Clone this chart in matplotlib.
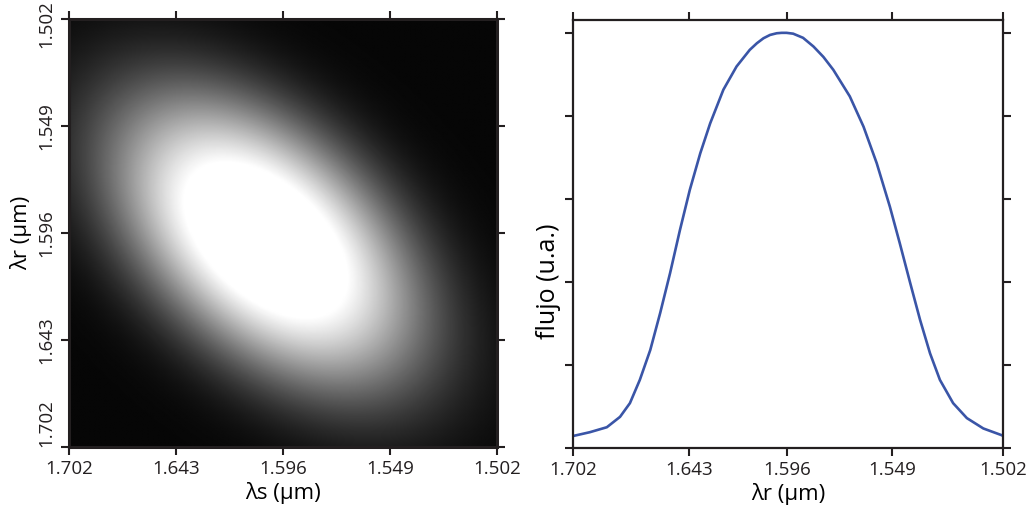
import numpy as np
import matplotlib
matplotlib.use("Agg")
import matplotlib.pyplot as plt
import matplotlib.transforms as mtransforms

plt.rcParams['font.family'] = ['Open Sans', 'DejaVu Sans']

# tick labels (wavelengths, um)
lam_s_labels = ['1.702', '1.643', '1.596', '1.549', '1.502']
lam_r_labels = ['1.502', '1.549', '1.596', '1.643', '1.702']
lam_ticks = [1.702, 1.643, 1.596, 1.549, 1.502]

# joint spectrum blob (in tick units, 0..4, y measured from top)
blob_center = (1.84, 2.07)
blob_sigma_major = 1.2
blob_sigma_minor = 0.70
blob_angle_deg = 42.0
blob_power = 1.3
blob_vmax = 0.82

# marginal flux vs. frequency (1/um), normalised
freq = [0.5876, 0.5906, 0.5937, 0.5961, 0.5979, 0.5997, 0.6016, 0.6034,
        0.6052, 0.6070, 0.6088, 0.6107, 0.6125, 0.6149, 0.6173, 0.6197,
        0.6210, 0.6222, 0.6234, 0.6246, 0.6255, 0.6264, 0.6276, 0.6294,
        0.6313, 0.6331, 0.6349, 0.6379, 0.6404,
        0.6428, 0.6452, 0.6470, 0.6489, 0.6507, 0.6525, 0.6543, 0.6567,
        0.6592, 0.6622, 0.6655, 0.6658]
flux = [0.029, 0.038, 0.050, 0.075, 0.108, 0.164, 0.236, 0.325,
        0.421, 0.525, 0.622, 0.710, 0.782, 0.863, 0.919, 0.959,
        0.975, 0.987, 0.995, 0.999, 1.000, 1.000, 0.998, 0.988,
        0.967, 0.942, 0.911, 0.847, 0.774,
        0.686, 0.581, 0.493, 0.397, 0.308, 0.228, 0.164, 0.108,
        0.072, 0.047, 0.031, 0.029]

fig = plt.figure(figsize=(10.28, 5.07), dpi=100)
ax1 = fig.add_axes([0.0671, 0.1183, 0.4163, 0.8442])
ax2 = fig.add_axes([0.5574, 0.1164, 0.4183, 0.8442])

edge = '#231f20'

# left: joint spectral intensity
n = 400
g = (np.arange(n) + 0.5) / n * 4
X, Y = np.meshgrid(g, g)
th = np.deg2rad(blob_angle_deg)
dx, dy = X - blob_center[0], Y - blob_center[1]
u = dx * np.cos(th) + dy * np.sin(th)
v = -dx * np.sin(th) + dy * np.cos(th)
r2 = 0.5 * ((u / blob_sigma_major) ** 2 + (v / blob_sigma_minor) ** 2)
img = np.exp(-r2 ** blob_power)
ax1.imshow(img, cmap='gray', extent=[0, 4, 4, 0], vmin=-0.02, vmax=blob_vmax,
           interpolation='bilinear', aspect='auto')
ax1.set_xlim(0, 4)
ax1.set_ylim(4, 0)
ax1.set_xticks(range(5))
ax1.set_xticklabels(lam_s_labels)
ax1.set_yticks(range(5))
ax1.set_yticklabels(lam_r_labels, rotation=90, va='center')
ax1.set_xlabel('λs (μm)', fontsize=16, labelpad=3)
ax1.set_ylabel('λr (μm)', fontsize=16, labelpad=4)

# right: marginal flux
ax2.plot(freq, flux, color='#3a55a7', lw=1.9)
ax2.set_xlim(1 / 1.702, 1 / 1.502)
ax2.set_ylim(0, 1.031)
ax2.set_xticks([1 / l for l in lam_ticks])
ax2.set_xticklabels(lam_s_labels)
ax2.set_yticks(np.linspace(0, 1, 6))
ax2.set_yticklabels([])
ax2.set_xlabel('λr (μm)', fontsize=16, labelpad=3)
ax2.set_ylabel('flujo (u.a.)', fontsize=18)
ax2.yaxis.set_label_coords(-0.028, 0.39)

for ax, lw in ((ax1, 2.2), (ax2, 1.6)):
    for s in ax.spines.values():
        s.set_color(edge)
        s.set_linewidth(lw)
    ax.tick_params(direction='out', length=6, width=1.5, color=edge,
                   top=True, right=True, labelsize=13.5, labelcolor=edge)

# keep the outer y labels of the image inside the frame height
ylabs = ax1.get_yticklabels()
ylabs[0].set_transform(ylabs[0].get_transform() +
                       mtransforms.ScaledTranslation(0, -5 / 100, fig.dpi_scale_trans))
ylabs[-1].set_va('bottom')

fig.savefig('out.png', dpi=100)
